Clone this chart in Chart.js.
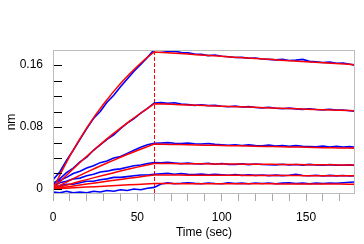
<!DOCTYPE html>
<html>
<head>
<meta charset="utf-8">
<script src="https://cdn.jsdelivr.net/npm/chart.js@4/dist/chart.umd.min.js"></script>
<style>
html,body{margin:0;padding:0;background:#fff;}
canvas{display:block;}
</style>
</head>
<body>
<canvas id="c" width="364" height="244"></canvas>
<script>
// Measured (blue) time points, seconds
const tBlue = [0,4,8,12,16,20,24,28,32,36,40,44,48,52,56,60,
  64,68,72,76,80,84,88,92,96,100,104,108,112,116,120,124,128,132,136,140,144,148,152,156,160,164,168,172,176,179];
// Fitted (red) time points, seconds
const tFit = [0,5,10,15,20,25,30,35,40,45,50,55,60,
  65,70,75,80,85,90,95,100,105,110,115,120,125,130,135,140,145,150,155,160,165,170,175,179];

// Measured responses (nm)
const meas1 = [0.012,0.022,0.037,0.050,0.064,0.078,0.091,0.100,0.112,0.121,0.132,0.142,0.152,0.161,0.170,0.180,
  0.1790,0.1775,0.1780,0.1762,0.1758,0.1742,0.1738,0.1722,0.1730,0.1715,0.1708,0.1698,0.1700,0.1688,0.1692,0.1678,0.1674,0.1668,0.1676,0.1660,0.1664,0.1674,0.1648,0.1642,0.1634,0.1638,0.1624,0.1628,0.1612,0.1600];
const meas2 = [0.007,0.013,0.021,0.027,0.035,0.041,0.050,0.057,0.064,0.070,0.078,0.085,0.091,0.098,0.104,0.111,
  0.1115,0.1108,0.1114,0.1098,0.1090,0.1080,0.1088,0.1076,0.1082,0.1068,0.1062,0.1070,0.1058,0.1064,0.1052,0.1048,0.1055,0.1042,0.1036,0.1044,0.1034,0.1028,0.1036,0.1026,0.1022,0.1030,0.1018,0.1020,0.1010,0.1003];
const meas3 = [0.006,0.011,0.015,0.020,0.023,0.027,0.030,0.034,0.036,0.040,0.042,0.046,0.050,0.054,0.057,0.059,
  0.0594,0.0598,0.0590,0.0586,0.0594,0.0584,0.0580,0.0588,0.0576,0.0570,0.0564,0.0572,0.0562,0.0570,0.0560,0.0558,0.0566,0.0554,0.0562,0.0550,0.0560,0.0552,0.0548,0.0545,0.0554,0.0543,0.0550,0.0542,0.0547,0.0538];
const meas4 = [0.004,0.008,0.010,0.013,0.014,0.017,0.019,0.022,0.023,0.025,0.026,0.028,0.030,0.031,0.033,0.034,
  0.0338,0.0344,0.0336,0.0328,0.0334,0.0326,0.0324,0.0332,0.0320,0.0328,0.0318,0.0316,0.0324,0.0314,0.0322,0.0316,0.0313,0.0311,0.0320,0.0310,0.0316,0.0308,0.0318,0.0310,0.0306,0.0314,0.0308,0.0306,0.0311,0.0304];
const meas5 = [0.002,0.004,0.006,0.006,0.008,0.010,0.010,0.012,0.013,0.015,0.015,0.016,0.017,0.018,0.018,0.019,
  0.0196,0.0202,0.0190,0.0199,0.0188,0.0186,0.0194,0.0184,0.0191,0.0184,0.0178,0.0185,0.0176,0.0183,0.0175,0.0181,0.0173,0.0179,0.0172,0.0177,0.0190,0.0174,0.0170,0.0177,0.0168,0.0175,0.0169,0.0173,0.0167,0.0170];
const meas6 = [-0.004,-0.005,-0.003,-0.005,-0.004,-0.005,-0.003,-0.004,-0.002,-0.003,-0.001,-0.002,0.000,-0.001,0.001,0.002,
  0.0065,0.0078,0.0068,0.0073,0.0080,0.0072,0.0068,0.0078,0.0071,0.0068,0.0078,0.0070,0.0075,0.0068,0.0077,0.0071,0.0078,0.0068,0.0075,0.0080,0.0071,0.0076,0.0068,0.0075,0.0071,0.0078,0.0073,0.0080,0.0086,0.0090];

// Fitted responses (nm)
const fit1 = [0,0.0221,0.0426,0.0615,0.0789,0.0950,0.1098,0.1235,0.1361,0.1478,0.1586,0.1685,0.1770,
  0.1763,0.1756,0.1749,0.1742,0.1735,0.1727,0.1720,0.1713,0.1706,0.1699,0.1692,0.1685,0.1678,0.1671,0.1664,0.1657,0.1650,0.1643,0.1637,0.1630,0.1623,0.1617,0.1610,0.1605];
const fit2 = [0,0.0112,0.0219,0.0322,0.0422,0.0519,0.0611,0.0701,0.0786,0.0869,0.0949,0.1025,0.1101,
  0.1097,0.1093,0.1089,0.1085,0.1081,0.1077,0.1073,0.1069,0.1066,0.1062,0.1058,0.1054,0.1050,0.1046,0.1043,0.1039,0.1035,0.1031,0.1028,0.1024,0.1020,0.1016,0.1013,0.1010];
const fit3 = [0,0.0057,0.0112,0.0165,0.0217,0.0267,0.0316,0.0363,0.0410,0.0454,0.0497,0.0539,0.0580,
  0.0578,0.0575,0.0573,0.0571,0.0568,0.0566,0.0564,0.0561,0.0559,0.0557,0.0554,0.0552,0.0550,0.0548,0.0545,0.0543,0.0541,0.0539,0.0536,0.0534,0.0532,0.0530,0.0528,0.0526];
const fit4 = [0,0.0031,0.0062,0.0092,0.0121,0.0150,0.0177,0.0204,0.0231,0.0257,0.0282,0.0306,0.0330,
  0.0329,0.0328,0.0327,0.0326,0.0326,0.0325,0.0324,0.0323,0.0322,0.0321,0.0320,0.0320,0.0319,0.0318,0.0317,0.0316,0.0315,0.0314,0.0314,0.0313,0.0312,0.0311,0.0310,0.0310];
const fit5 = [0,0.0016,0.0032,0.0047,0.0063,0.0078,0.0093,0.0108,0.0123,0.0138,0.0152,0.0166,0.0180,
  0.0180,0.0179,0.0179,0.0178,0.0178,0.0177,0.0177,0.0176,0.0176,0.0176,0.0175,0.0175,0.0174,0.0174,0.0173,0.0173,0.0173,0.0172,0.0172,0.0171,0.0171,0.0171,0.0170,0.0170];
const fit6 = [0,0.0006,0.0012,0.0018,0.0024,0.0030,0.0036,0.0041,0.0047,0.0053,0.0059,0.0065,0.0070,
  0.0070,0.0070,0.0069,0.0069,0.0069,0.0068,0.0068,0.0068,0.0067,0.0067,0.0067,0.0066,0.0066,0.0066,0.0065,0.0065,0.0065,0.0064,0.0064,0.0064,0.0063,0.0063,0.0062,0.0061];

const injectionEnd = 60;
const yMajorLabels = [0, 0.08, 0.16];
const xMajorLabels = [0, 50, 100, 150];

const measured = [meas1, meas2, meas3, meas4, meas5, meas6];
const fitted = [fit1, fit2, fit3, fit4, fit5, fit6];

const FONT = {family: '"Liberation Sans", Arial, sans-serif', size: 12};

const datasets = [];
fitted.forEach(arr => datasets.push({
  data: tFit.map((t, i) => ({x: t, y: arr[i]})),
  borderColor: '#ff0000', borderWidth: 1.5, pointRadius: 0, fill: false, order: 0
}));
measured.forEach(arr => datasets.push({
  data: tBlue.map((t, i) => ({x: t, y: arr[i]})),
  borderColor: '#0000ff', borderWidth: 1.6, pointRadius: 0, fill: false, order: 1
}));

const decor = {
  id: 'decor',
  beforeDatasetsDraw(chart) {
    const {ctx, chartArea: a, scales: {x}} = chart;
    const px = Math.round(x.getPixelForValue(injectionEnd)) + 0.5;
    ctx.save();
    ctx.strokeStyle = '#ff0000';
    ctx.lineWidth = 1;
    ctx.setLineDash([4, 2]);
    ctx.beginPath();
    ctx.moveTo(px, a.top + 1);
    ctx.lineTo(px, a.bottom);
    ctx.stroke();
    ctx.restore();
  },
  afterDatasetsDraw(chart) {
    const {ctx, chartArea: a, scales: {y}} = chart;
    ctx.save();
    ctx.strokeStyle = '#bdbdbd';
    ctx.lineWidth = 1;
    ctx.strokeRect(Math.round(a.left) + 0.5, Math.round(a.top) + 0.5,
      Math.round(a.right - a.left) - 1, Math.round(a.bottom - a.top) - 1);
    ctx.strokeStyle = '#000';
    ctx.beginPath();
    y.ticks.forEach(t => {
      const py = Math.round(y.getPixelForValue(t.value)) + 0.5;
      ctx.moveTo(a.left + 1, py);
      ctx.lineTo(a.left + 9, py);
    });
    ctx.stroke();
    ctx.restore();
  }
};

new Chart(document.getElementById('c'), {
  type: 'line',
  data: {datasets},
  plugins: [decor],
  options: {
    responsive: false,
    animation: false,
    layout: {padding: {top: 50, right: 9, left: 0, bottom: 0}},
    plugins: {legend: {display: false}, tooltip: {enabled: false}},
    elements: {line: {tension: 0}, point: {radius: 0}},
    scales: {
      x: {
        type: 'linear', min: 0, max: 179,
        afterFit(s) { s.height = 50; },
        ticks: {
          stepSize: 10, includeBounds: false, autoSkip: false, maxRotation: 0,
          padding: 9, color: '#000', font: FONT,
          callback: v => xMajorLabels.includes(v) ? String(v) : ''
        },
        grid: {display: true, drawOnChartArea: false, drawTicks: true, tickLength: 7, color: '#aaaaaa'},
        border: {display: false},
        title: {display: true, text: 'Time (sec)', color: '#000', font: FONT, padding: {top: 0, bottom: 4}}
      },
      y: {
        type: 'linear', min: -0.0065, max: 0.1795,
        afterFit(s) { s.width = 53; },
        ticks: {
          stepSize: 0.02, includeBounds: false, autoSkip: false,
          padding: 10, color: '#000', font: FONT,
          callback: v => {
            const m = yMajorLabels.find(l => Math.abs(l - v) < 1e-9);
            return m === undefined ? '' : (m === 0 ? '0' : m.toFixed(2));
          }
        },
        grid: {display: false, drawTicks: false, tickLength: 0},
        border: {display: false},
        title: {display: true, text: 'nm', color: '#000', font: FONT, padding: {top: 4, bottom: 0}}
      }
    }
  }
});
</script>
</body>
</html>
